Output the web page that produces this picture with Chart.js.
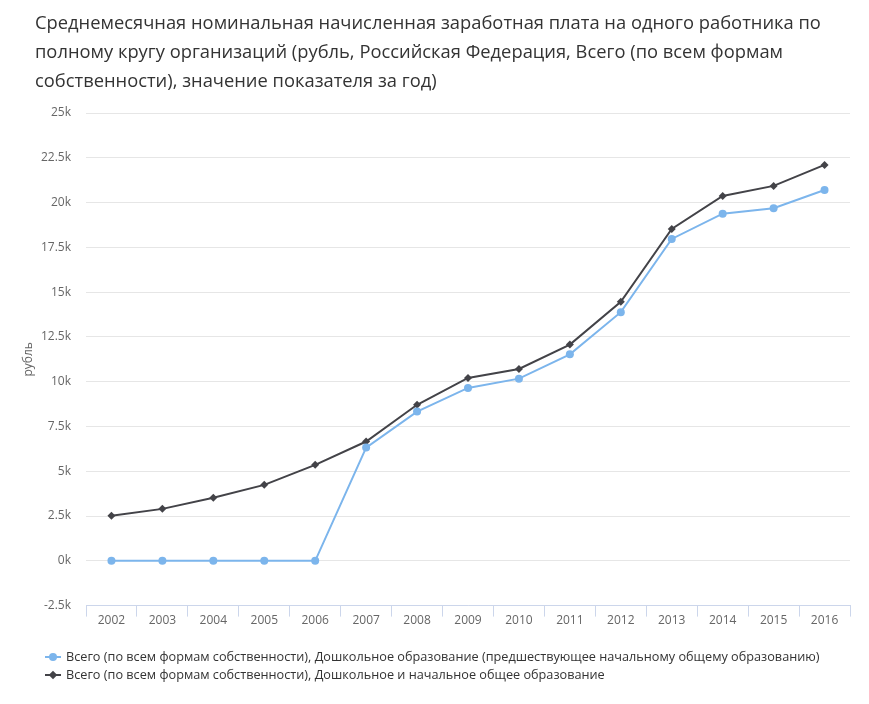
<!DOCTYPE html>
<html><head><meta charset="utf-8">
<script src="https://cdn.jsdelivr.net/npm/chart.js@4/dist/chart.umd.min.js"></script>
<style>
html,body{margin:0;padding:0;background:#fff;}
#wrap{position:relative;width:869px;height:704px;overflow:hidden;}
#title{position:absolute;left:35px;top:8px;width:850px;font-family:"Open Sans",sans-serif;font-size:19px;line-height:29px;color:#333;transform:scaleX(0.965);transform-origin:0 0;}
#c{position:absolute;left:0;top:0;}
#legend{position:absolute;left:45px;top:648px;font-family:"Open Sans",sans-serif;font-size:12.7px;line-height:17.5px;color:#333;}
.item{position:relative;padding-left:21px;white-space:nowrap;}
.ln{position:absolute;left:0;top:8px;width:16px;height:2px;}
.mk{position:absolute;}
.mk.circle{left:4px;top:5px;width:8px;height:8px;border-radius:50%;}
.mk.diamond{left:5px;top:6px;width:6px;height:6px;transform:rotate(45deg);}
</style></head>
<body><div id="wrap">
<canvas id="c" width="869" height="704"></canvas>
<div id="title">Среднемесячная номинальная начисленная заработная плата на одного работника по<br>полному кругу организаций (рубль, Российская Федерация, Всего (по всем формам<br>собственности), значение показателя за год)</div>
<div id="legend"></div>
</div>
<script>
const years = ["2002","2003","2004","2005","2006","2007","2008","2009","2010","2011","2012","2013","2014","2015","2016"];
const preschool = [0,0,0,0,0,6320,8330,9650,10170,11530,13880,17970,19380,19680,20700];
const preschoolPrimary = [2510,2900,3520,4240,5360,6660,8710,10210,10710,12070,14460,18530,20370,20930,22100];
const seriesNames = [
 "Всего (по всем формам собственности), Дошкольное образование (предшествующее начальному общему образованию)",
 "Всего (по всем формам собственности), Дошкольное и начальное общее образование"
];
const seriesColors = ['#7cb5ec','#434348'];
const yAxisTitle = "рубль";

const chart = new Chart(document.getElementById('c'), {
  type: 'line',
  data: {
    labels: years,
    datasets: [
      {label: seriesNames[0], data: preschool, borderColor:seriesColors[0], backgroundColor:seriesColors[0],
       borderWidth:2, pointStyle:'circle', pointRadius:4, pointBorderWidth:0, tension:0},
      {label: seriesNames[1], data: preschoolPrimary, borderColor:seriesColors[1], backgroundColor:seriesColors[1],
       borderWidth:2, pointStyle:'rectRot', pointRadius:4, pointBorderWidth:0, tension:0}
    ]
  },
  options: {
    responsive:false, animation:false,
    layout:{padding:{top:113,left:0,right:19,bottom:79}},
    plugins:{tooltip:{enabled:false},legend:{display:false}},
    scales:{
      x:{offset:true,
        grid:{offset:true,drawOnChartArea:false,drawTicks:true,tickLength:11,color:'#ccd6eb'},
        border:{color:'#ccd6eb'},
        ticks:{color:'#666',font:{family:'"Open Sans", sans-serif',size:12},maxRotation:0,padding:-3}},
      y:{min:-2500,max:25000,
        afterFit:s=>{s.width=86;},
        grid:{color:'#e6e6e6',drawTicks:false},
        border:{display:false},
        title:{display:true,text:yAxisTitle,color:'#666',padding:{top:21,bottom:0},font:{family:'"Open Sans", sans-serif',size:12}},
        ticks:{stepSize:2500,padding:15,color:'#666',font:{family:'"Open Sans", sans-serif',size:12},
          callback:v=>(v/1000)+'k'}}
    }
  }
});

const lg = document.getElementById('legend');
chart.data.datasets.forEach((ds,i)=>{
  const it = document.createElement('div'); it.className='item';
  const ln = document.createElement('span'); ln.className='ln'; ln.style.background=ds.borderColor;
  const mk = document.createElement('span'); mk.className='mk '+(ds.pointStyle==='circle'?'circle':'diamond'); mk.style.background=ds.borderColor;
  it.appendChild(ln); it.appendChild(mk); it.appendChild(document.createTextNode(ds.label));
  lg.appendChild(it);
});
</script></body></html>
